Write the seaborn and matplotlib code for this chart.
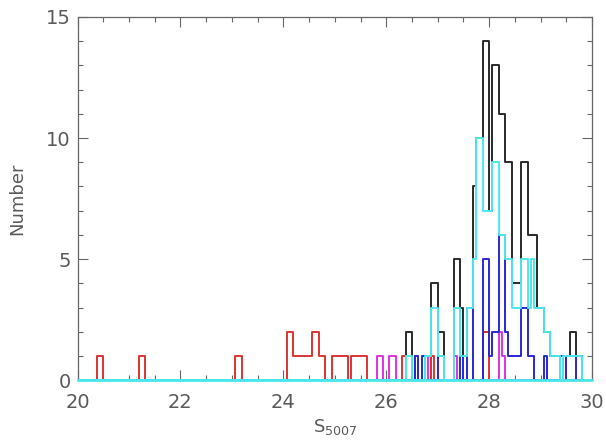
import numpy as np
import pandas as pd
import matplotlib
matplotlib.use('Agg')
import matplotlib.pyplot as plt
from matplotlib.ticker import MultipleLocator
import seaborn as sns

# histogram steps: (bin range start, end, number)
black_lo = [26.375, 26.875, 27.0, 27.3125, 27.4375, 27.5, 27.5625, 27.6875, 27.75, 27.875, 28.0, 28.0625,
            28.1875, 28.3125, 28.4375, 28.625, 28.75, 28.9375, 29.0625, 29.1875, 29.4375, 29.5625, 29.6875]
black_hi = [26.5, 27.0, 27.125, 27.4375, 27.5, 27.5625, 27.6875, 27.75, 27.875, 28.0, 28.0625, 28.1875,
            28.3125, 28.4375, 28.625, 28.75, 28.9375, 29.0625, 29.1875, 29.375, 29.5625, 29.6875, 29.8125]
black_n = [2, 4, 2, 5, 3, 1, 3, 8, 10, 14, 7, 13, 11, 9, 4, 9, 6, 3, 2, 1, 1, 2, 1]

red_lo = [20.375, 21.1875, 23.0625, 24.0625, 24.1875, 24.5625, 24.6875, 24.9375, 25.3125, 26.3125, 26.875, 27.875]
red_hi = [20.5, 21.3125, 23.1875, 24.1875, 24.5625, 24.6875, 24.8125, 25.25, 25.625, 26.375, 26.9375, 28.0]
red_n = [1, 1, 1, 2, 1, 2, 1, 1, 1, 1, 1, 2]

magenta_lo = [25.8125, 26.0625, 26.5625, 26.75, 27.3125, 28.1875, 28.25, 29.4375]
magenta_hi = [25.9375, 26.1875, 26.625, 26.8125, 27.375, 28.25, 28.3125, 29.5]
magenta_n = [1, 1, 1, 1, 1, 2, 1, 1]

blue_lo = [26.5625, 26.6875, 27.0, 27.4375, 27.5625, 27.875, 28.0, 28.0625, 28.1875, 28.3125, 28.375,
           28.625, 28.75, 29.0625, 29.375, 29.6875]
blue_hi = [26.625, 26.75, 27.125, 27.5, 27.6875, 28.0, 28.0625, 28.1875, 28.3125, 28.375, 28.625,
           28.75, 28.875, 29.125, 29.5, 29.8125]
blue_n = [1, 1, 1, 1, 3, 5, 1, 2, 6, 2, 1, 3, 1, 1, 1, 1]

cyan_lo = [26.375, 26.75, 26.875, 27.0, 27.3125, 27.4375, 27.5625, 27.6875, 27.75, 27.875, 28.0625, 28.1875,
           28.3125, 28.4375, 28.625, 28.75, 28.8125, 28.875, 29.0625, 29.1875, 29.4375]
cyan_hi = [26.5, 26.875, 27.0, 27.125, 27.4375, 27.5625, 27.6875, 27.75, 27.875, 28.0625, 28.1875, 28.3125,
           28.4375, 28.625, 28.75, 28.8125, 28.875, 29.0625, 29.1875, 29.375, 29.8125]
cyan_n = [1, 1, 3, 1, 3, 1, 3, 5, 10, 7, 9, 6, 5, 3, 5, 3, 5, 3, 2, 1, 1]

binw = 0.0625


def expand(lo, hi, n):
    xs, ws = [], []
    for a, b, c in zip(lo, hi, n):
        for left in np.arange(a, b - 1e-9, binw):
            xs.append(left + binw / 2)
            ws.append(c)
    return pd.DataFrame({'s': xs, 'n': ws})


sns.set_style('ticks')
plt.rcParams['font.family'] = ['DejaVu Sans']

fig = plt.figure(figsize=(6.06, 4.41), dpi=100)
ax = fig.add_axes([0.128, 0.138, 0.849, 0.8235])

series = [(black_lo, black_hi, black_n, '#2a2a2a'),
          (red_lo, red_hi, red_n, '#dd3333'),
          (magenta_lo, magenta_hi, magenta_n, '#e030e0'),
          (blue_lo, blue_hi, blue_n, '#2828d0'),
          (cyan_lo, cyan_hi, cyan_n, '#4ae8ee')]

for lo, hi, n, col in series:
    df = expand(lo, hi, n)
    sns.histplot(data=df, x='s', weights='n', binwidth=binw, binrange=(20, 30),
                 element='step', fill=False, color=col, linewidth=1.4, ax=ax)

# empty bins of the last histogram run along the x axis
ax.axhline(0, color='#4ae8ee', linewidth=2.0, zorder=5, clip_on=False)

ax.set_xlim(20, 30)
ax.set_ylim(0, 15)
ax.xaxis.set_major_locator(MultipleLocator(2))
ax.xaxis.set_minor_locator(MultipleLocator(0.5))
ax.yaxis.set_major_locator(MultipleLocator(5))
ax.yaxis.set_minor_locator(MultipleLocator(1))
ax.tick_params(which='both', direction='in', top=True, right=True, color='#666666',
               labelcolor='#5a5a5a', labelsize=14)
ax.tick_params(which='major', length=7, width=0.8)
ax.tick_params(which='minor', length=3.5, width=0.8)
ax.tick_params(axis='x', which='both', pad=9)
ax.tick_params(axis='y', which='both', pad=5)
for s in ax.spines.values():
    s.set_color('#666666')
    s.set_linewidth(0.9)

ax.set_xlabel('S$_{5007}$', color='#5a5a5a', fontsize=13, labelpad=4)
ax.set_ylabel('Number', color='#5a5a5a', fontsize=13, labelpad=14)

plt.savefig('out.png', dpi=100)
